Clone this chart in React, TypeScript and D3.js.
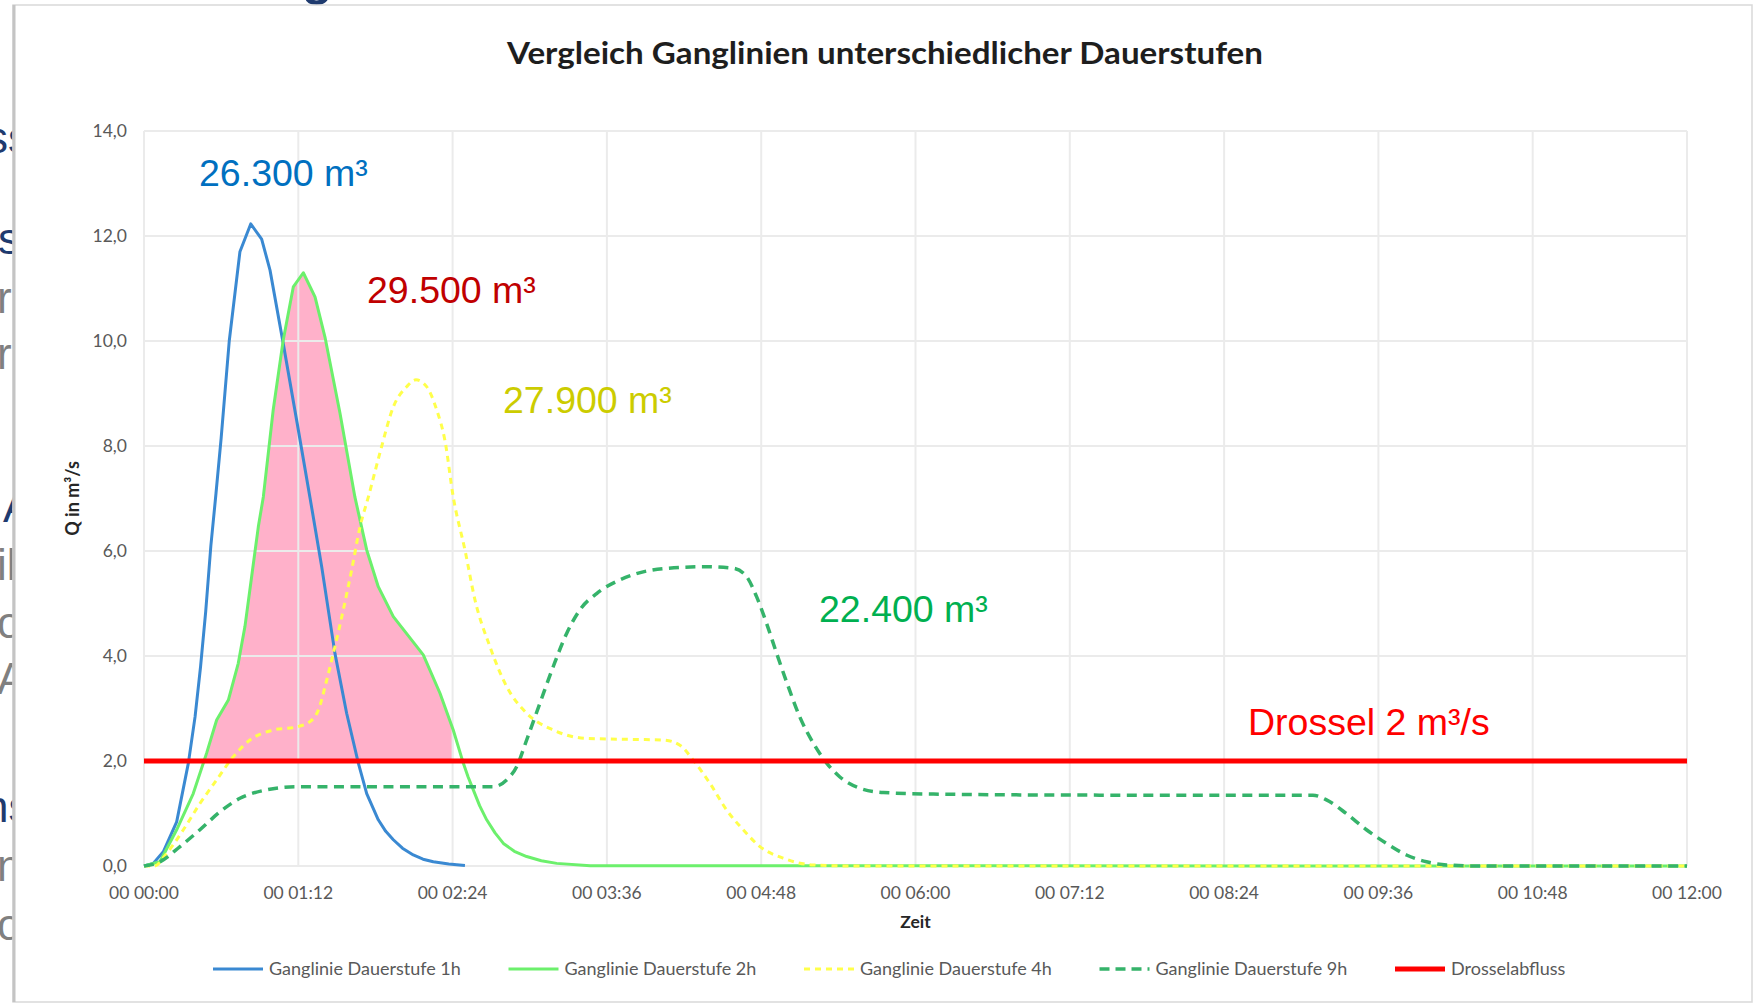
import React from 'react';
import * as d3 from 'd3';

// ---------- data ----------
const yTickValues = [0, 2, 4, 6, 8, 10, 12, 14];
const yTickLabels = ['0,0', '2,0', '4,0', '6,0', '8,0', '10,0', '12,0', '14,0'];
const xTickHours = [0, 1.2, 2.4, 3.6, 4.8, 6, 7.2, 8.4, 9.6, 10.8, 12];
const xTickLabels = ['00 00:00', '00 01:12', '00 02:24', '00 03:36', '00 04:48', '00 06:00', '00 07:12', '00 08:24', '00 09:36', '00 10:48', '00 12:00'];

// Ganglinie Dauerstufe 1h (time in hours, Q in m³/s)
const t1h = [0, 0.072, 0.15, 0.254, 0.345, 0.397, 0.44, 0.48, 0.52, 0.56, 0.6, 0.663, 0.746, 0.83, 0.915, 0.98, 1.083, 1.19, 1.29, 1.382, 1.485, 1.576, 1.667, 1.732, 1.822, 1.88, 1.939, 2.01, 2.094, 2.17, 2.25, 2.37, 2.496];
const q1h = [0, 0.05, 0.27, 0.84, 1.96, 2.84, 3.8, 4.85, 6.1, 7.1, 8.15, 10.0, 11.7, 12.23, 11.94, 11.35, 9.95, 8.45, 7.03, 5.7, 4.05, 2.91, 1.96, 1.38, 0.88, 0.66, 0.5, 0.34, 0.21, 0.13, 0.08, 0.04, 0.01];

// Ganglinie Dauerstufe 2h
const t2h = [0, 0.124, 0.254, 0.383, 0.487, 0.565, 0.656, 0.733, 0.785, 0.837, 0.889, 0.928, 1.005, 1.083, 1.161, 1.239, 1.33, 1.407, 1.524, 1.64, 1.732, 1.822, 1.939, 2.172, 2.302, 2.405, 2.483, 2.52, 2.561, 2.61, 2.665, 2.73, 2.795, 2.88, 2.976, 3.09, 3.21, 3.47, 12];
const q2h = [0, 0.08, 0.69, 1.38, 2.15, 2.78, 3.16, 3.86, 4.56, 5.51, 6.46, 7.03, 8.69, 10.02, 11.03, 11.3, 10.84, 10.08, 8.63, 7.03, 6.02, 5.32, 4.75, 4.02, 3.29, 2.59, 1.96, 1.7, 1.45, 1.15, 0.88, 0.63, 0.43, 0.28, 0.18, 0.1, 0.05, 0.005, 0];

// Ganglinie Dauerstufe 4h
const t4h = [0, 0.08, 0.176, 0.306, 0.435, 0.565, 0.694, 0.824, 1.005, 1.187, 1.291, 1.356, 1.421, 1.485, 1.55, 1.615, 1.68, 1.745, 1.835, 1.94, 2.043, 2.115, 2.198, 2.276, 2.34, 2.405, 2.496, 2.574, 2.69, 2.82, 2.976, 3.183, 3.442, 3.83, 4.04, 4.168, 4.27, 4.4, 4.53, 4.66, 4.79, 4.97, 5.2, 5.5, 12];
const q4h = [0, 0, 0.24, 0.69, 1.19, 1.64, 2.08, 2.4, 2.59, 2.65, 2.75, 2.97, 3.54, 4.18, 4.88, 5.64, 6.46, 7.03, 7.87, 8.75, 9.13, 9.26, 9.13, 8.69, 8.11, 7.03, 6.02, 5.07, 4.18, 3.42, 2.91, 2.59, 2.43, 2.41, 2.4, 2.3, 2.02, 1.58, 1.07, 0.69, 0.37, 0.15, 0.02, 0, 0];

// Ganglinie Dauerstufe 9h
const t9h = [0, 0.124, 0.28, 0.435, 0.59, 0.746, 0.954, 1.187, 2.716, 2.82, 2.898, 2.976, 3.079, 3.183, 3.287, 3.39, 3.52, 3.7, 3.83, 4.064, 4.375, 4.583, 4.687, 4.764, 4.842, 4.92, 5.01, 5.1, 5.205, 5.309, 5.41, 5.568, 5.75, 6.14, 7.43, 9.09, 9.196, 9.35, 9.507, 9.663, 9.818, 9.974, 10.13, 10.4, 12];
const q9h = [0, 0.08, 0.37, 0.69, 1.03, 1.29, 1.45, 1.51, 1.51, 1.64, 1.89, 2.4, 3.1, 3.8, 4.43, 4.88, 5.19, 5.45, 5.57, 5.67, 5.7, 5.67, 5.51, 5.13, 4.62, 4.05, 3.42, 2.84, 2.34, 1.96, 1.7, 1.48, 1.4, 1.37, 1.35, 1.35, 1.26, 1.0, 0.69, 0.43, 0.21, 0.08, 0.02, 0, 0];

// Drosselabfluss
const tDrossel = [0, 12];
const qDrossel = [2, 2];

// retention volume shading (above Drossel, under 2h curve)
const pinkEndHour = 2.405;

const legendLabels = ['Ganglinie Dauerstufe 1h', 'Ganglinie Dauerstufe 2h', 'Ganglinie Dauerstufe 4h', 'Ganglinie Dauerstufe 9h', 'Drosselabfluss'];
const volumeLabels = ['26.300 m³', '29.500 m³', '27.900 m³', '22.400 m³'];
const drosselLabel = 'Drossel 2 m³/s';
const chartTitle = 'Vergleich Ganglinien unterschiedlicher Dauerstufen';
const xTitle = 'Zeit';
const yTitle = 'Q in m³/s';

// fragments of the slide behind the chart
const navyFragments = ['ss', 's', 'A', 'ns'];
const grayFragments = ['r', 'r', 'il', 'o', 'A', 'n', 'o'];

// ---------- chart ----------
const zip = (ts: number[], qs: number[]) => ts.map((t, i) => [t, qs[i]] as [number, number]);

export default function App() {
  const x = d3.scaleLinear().domain([0, 12]).range([144, 1687]);
  const y = d3.scaleLinear().domain([0, 14]).range([866, 131]);

  const linLine = d3.line<[number, number]>().x(d => x(d[0])).y(d => y(d[1])).curve(d3.curveLinear);
  const smoothLine = d3.line<[number, number]>().x(d => x(d[0])).y(d => y(d[1])).curve(d3.curveMonotoneX);

  // pink area: from where 2h curve crosses 2 m³/s up to pinkEndHour
  const g2 = zip(t2h, q2h);
  let tStart = 0;
  for (let i = 1; i < g2.length; i++) {
    if (g2[i - 1][1] < 2 && g2[i][1] >= 2) {
      const [ta, qa] = g2[i - 1];
      const [tb, qb] = g2[i];
      tStart = ta + ((2 - qa) / (qb - qa)) * (tb - ta);
      break;
    }
  }
  const pinkPts: [number, number][] = [[tStart, 2], ...g2.filter(d => d[0] > tStart && d[0] <= pinkEndHour)];
  const pinkArea = d3.area<[number, number]>().x(d => x(d[0])).y0(y(2)).y1(d => y(d[1])).curve(d3.curveLinear);

  const gridColor = '#ebebeb';
  const tickFont = 'Lato, "Open Sans", sans-serif';
  const annoFont = '"Liberation Sans", Arial, sans-serif';

  const legendColors = ['#3a89d2', '#6cf06c', '#ffff4a', '#35b36a', '#ff0000'];
  const legendDash = [undefined, undefined, '6 5', '10 6', undefined];
  const legendWidth = [3, 3, 3, 3.5, 5];

  const navyX = [-14, -2, 3, -16];
  const navyY = [153, 254, 522, 822];
  const grayY = [313, 369, 580, 638, 694, 881, 940];

  return (
    <div style={{ position: 'fixed', left: 0, top: 0 }}>
      <svg width={1755} height={1005} style={{ display: 'block', background: '#fff' }}>
        {/* slide fragments behind */}
        {navyFragments.map((s, i) => (
          <text key={'n' + i} x={navyX[i]} y={navyY[i]} fontFamily={annoFont} fontSize={44} fill="#1f3b6f">{s}</text>
        ))}
        {grayFragments.map((s, i) => (
          <text key={'g' + i} x={-3} y={grayY[i]} fontFamily={annoFont} fontSize={44} fill="#808080">{s}</text>
        ))}
        <text x={302} y={-5} fontFamily={annoFont} fontSize={50} fontWeight="bold" fill="#1f3b6f">g</text>

        {/* chart panel */}
        <rect x={13} y={5} width={1739} height={997} fill="#fff" stroke="#d9d9d9" strokeWidth={1.5} />
        <line x1={14} y1={5} x2={14} y2={1002} stroke="#c4c4c4" strokeWidth={3} />

        {/* pink retention area */}
        <path d={pinkArea(pinkPts) || ''} fill="#ffb1ca" />

        {/* gridlines */}
        {yTickValues.map(v => (
          <line key={'gy' + v} x1={x(0)} x2={x(12)} y1={y(v)} y2={y(v)} stroke={gridColor} strokeWidth={2} />
        ))}
        {xTickHours.map(h => (
          <line key={'gx' + h} x1={x(h)} x2={x(h)} y1={y(0)} y2={y(14)} stroke={gridColor} strokeWidth={2} />
        ))}

        {/* y tick labels */}
        {yTickValues.map((v, i) => (
          <text key={'yl' + v} x={127} y={y(v)} dy="0.35em" textAnchor="end" fontFamily={tickFont} fontSize={17.5} fill="#595959">{yTickLabels[i]}</text>
        ))}
        {/* x tick labels */}
        {xTickHours.map((h, i) => (
          <text key={'xl' + h} x={x(h)} y={893} dy="0.35em" textAnchor="middle" fontFamily={tickFont} fontSize={17.5} fill="#595959">{xTickLabels[i]}</text>
        ))}

        {/* series */}
        <path d={linLine(zip(t1h, q1h)) || ''} fill="none" stroke={legendColors[0]} strokeWidth={3} strokeLinejoin="round" />
        <path d={linLine(g2) || ''} fill="none" stroke={legendColors[1]} strokeWidth={3} strokeLinejoin="round" />
        <path d={smoothLine(zip(t4h, q4h)) || ''} fill="none" stroke={legendColors[2]} strokeWidth={3} strokeDasharray="6 5" />
        <path d={smoothLine(zip(t9h, q9h)) || ''} fill="none" stroke={legendColors[3]} strokeWidth={3.5} strokeDasharray="10 6.5" />
        <path d={linLine(zip(tDrossel, qDrossel)) || ''} fill="none" stroke={legendColors[4]} strokeWidth={5} />

        {/* titles */}
        <text x={885} y={64} textAnchor="middle" fontFamily={tickFont} fontWeight="bold" fontSize={30} fill="#1e1e1e" textLength={756} lengthAdjust="spacingAndGlyphs">{chartTitle}</text>
        <text x={x(6)} y={928} textAnchor="middle" fontFamily={tickFont} fontWeight="bold" fontSize={17.5} fill="#262626">{xTitle}</text>
        <text transform={`translate(79, ${y(7)}) rotate(-90)`} textAnchor="middle" fontFamily={tickFont} fontWeight="bold" fontSize={18} fill="#262626">{yTitle}</text>

        {/* volume annotations */}
        <text x={199} y={186} fontFamily={annoFont} fontSize={37.5} fill="#0070c0">{volumeLabels[0]}</text>
        <text x={367} y={303} fontFamily={annoFont} fontSize={37.5} fill="#c00000">{volumeLabels[1]}</text>
        <text x={503} y={413} fontFamily={annoFont} fontSize={37.5} fill="#cccc00">{volumeLabels[2]}</text>
        <text x={819} y={622} fontFamily={annoFont} fontSize={37.5} fill="#00b050">{volumeLabels[3]}</text>
        <text x={1248} y={735} fontFamily={annoFont} fontSize={37.5} fill="#ff0000">{drosselLabel}</text>

        {/* legend */}
        {legendLabels.map((lab, i) => {
          const lx = 213 + i * 295.5;
          return (
            <g key={'lg' + i}>
              <line x1={lx} x2={lx + 50} y1={969} y2={969} stroke={legendColors[i]} strokeWidth={legendWidth[i]} strokeDasharray={legendDash[i]} />
              <text x={lx + 56} y={969} dy="0.35em" fontFamily={tickFont} fontSize={18} fill="#595959">{lab}</text>
            </g>
          );
        })}
      </svg>
    </div>
  );
}
